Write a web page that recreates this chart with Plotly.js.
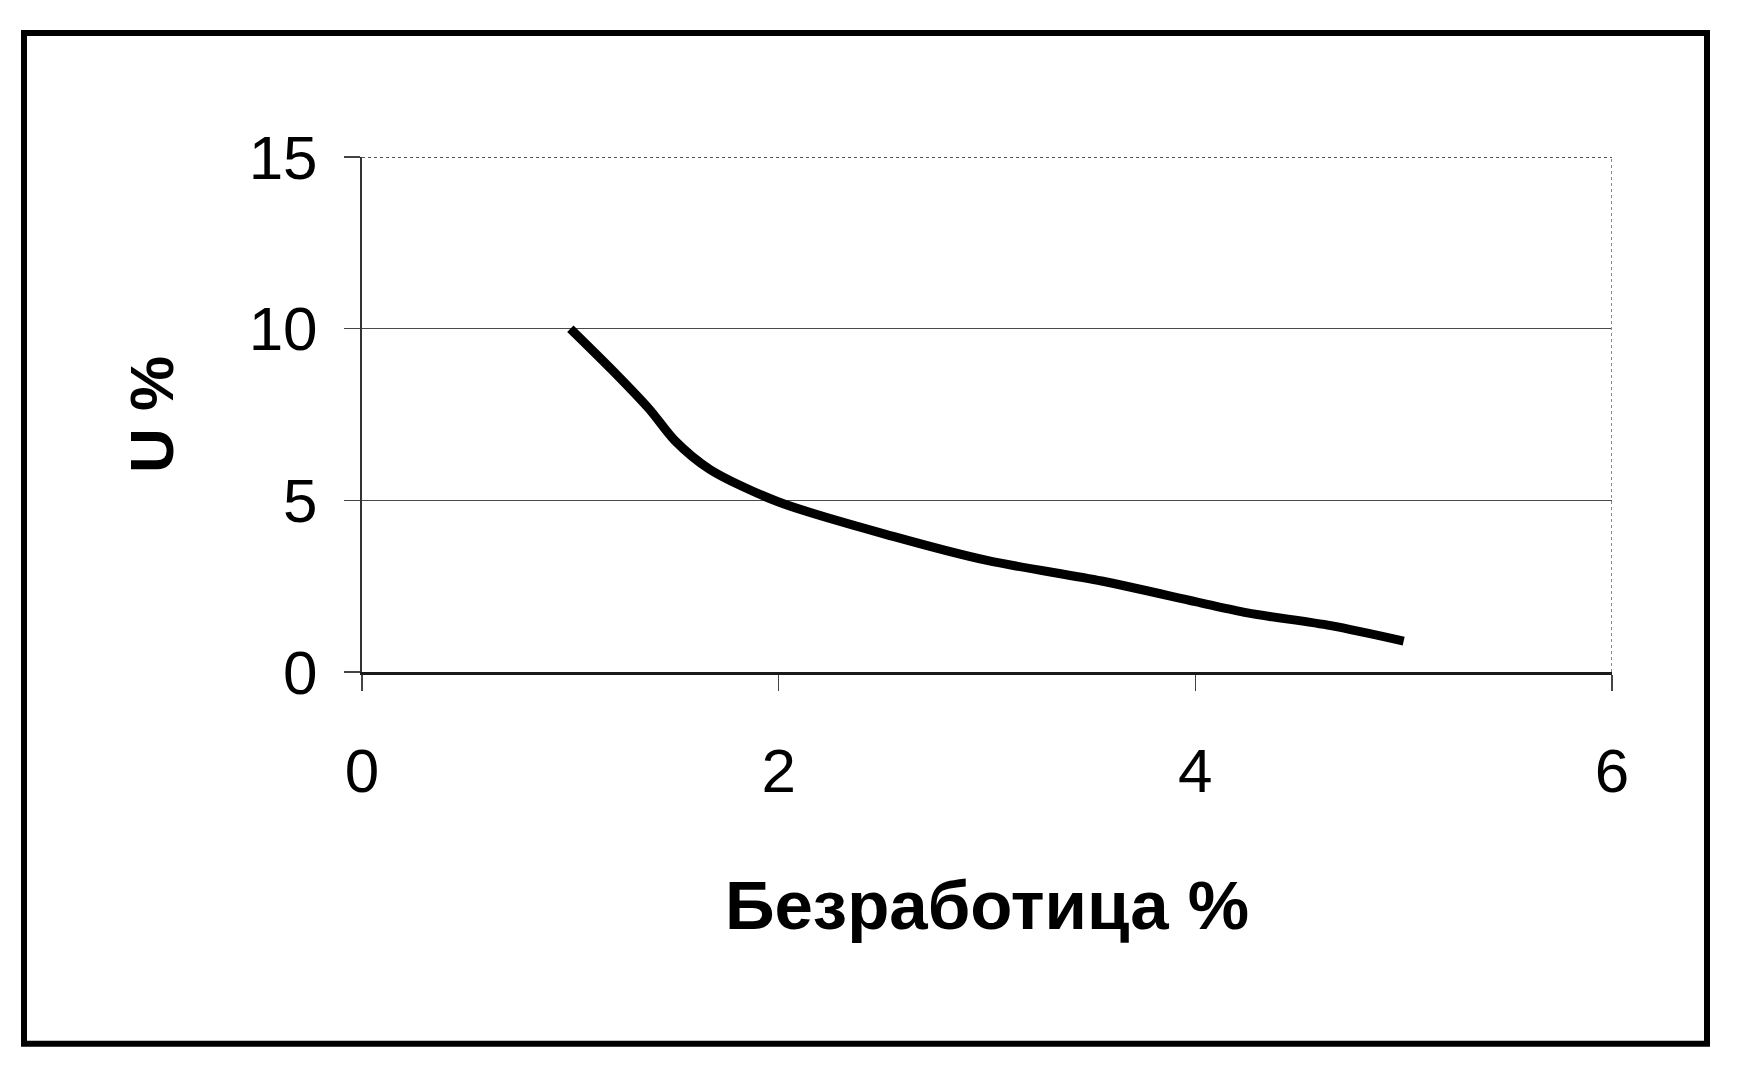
<!DOCTYPE html>
<html>
<head>
<meta charset="utf-8">
<script src="https://cdn.plot.ly/plotly-3.0.1.min.js"></script>
<style>
  html, body { margin: 0; padding: 0; background: #ffffff; }
  #chart { width: 1748px; height: 1089px; }
</style>
</head>
<body>
<div id="chart"></div>
<script>
// Data
const unemployment = [1.0, 1.2, 1.38, 1.5, 1.67, 2.0, 2.55, 3.0, 3.55, 4.0, 4.25, 4.65, 5.0];
const inflation    = [10.0, 8.8, 7.65, 6.75, 5.9, 4.95, 3.95, 3.25, 2.65, 2.05, 1.72, 1.35, 0.9];
const xTicks = [0, 2, 4, 6];
const yTicks = [0, 5, 10, 15];
const xTitle = 'Безработица %';
const yTitle = 'U %';

const FONT = '"Liberation Sans", Arial, sans-serif';

const trace = {
  x: unemployment,
  y: inflation,
  type: 'scatter',
  mode: 'lines',
  line: { color: '#000000', width: 9, shape: 'spline', smoothing: 0.8 },
  hoverinfo: 'x+y',
  showlegend: false
};

const layout = {
  width: 1748,
  height: 1089,
  paper_bgcolor: '#ffffff',
  plot_bgcolor: '#ffffff',
  margin: { l: 362, r: 136, t: 157, b: 417 },
  showlegend: false,
  font: { family: FONT, color: '#000000' },
  xaxis: {
    range: [0, 6],
    tickvals: xTicks,
    ticktext: xTicks.map(String),
    showgrid: false,
    zeroline: false,
    showline: true,
    linecolor: '#1a1a1a',
    linewidth: 3,
    ticks: 'outside',
    ticklen: 16,
    tickwidth: 1.5,
    tickcolor: '#444444',
    ticklabelstandoff: 27,
    tickfont: { family: FONT, size: 62, color: '#000000' },
    title: { text: xTitle, font: { family: FONT, size: 69, color: '#000000', weight: 'bold' }, standoff: 77 },
    automargin: false,
    fixedrange: true
  },
  yaxis: {
    range: [0, 15],
    tickvals: yTicks,
    ticktext: yTicks.map(String),
    showgrid: true,
    gridcolor: '#4a4a4a',
    gridwidth: 1.5,
    zeroline: false,
    showline: true,
    linecolor: '#333333',
    linewidth: 2,
    ticks: 'outside',
    ticklen: 16,
    tickwidth: 1.5,
    tickcolor: '#444444',
    ticklabelstandoff: 14,
    tickfont: { family: FONT, size: 62, color: '#000000' },
    title: { text: yTitle, font: { family: FONT, size: 62, color: '#000000', weight: 'bold' }, standoff: 55 },
    automargin: false,
    fixedrange: true
  },
  shapes: [
    // outer chart frame
    { type: 'rect', xref: 'paper', yref: 'paper',
      x0: -0.2704, x1: 1.076, y0: -0.722, y1: 1.241,
      line: { color: '#000000', width: 6 }, fillcolor: 'rgba(0,0,0,0)', layer: 'below' },
    // dotted top border of plot area
    { type: 'line', xref: 'x', yref: 'y', x0: 0, x1: 6, y0: 15, y1: 15,
      line: { color: '#555555', width: 2, dash: 'dot' } },
    // dotted right border of plot area
    { type: 'line', xref: 'x', yref: 'y', x0: 6, x1: 6, y0: 0, y1: 15,
      line: { color: '#888888', width: 2, dash: 'dot' } }
  ]
};

Plotly.newPlot('chart', [trace], layout, { displayModeBar: false, staticPlot: true });
</script>
</body>
</html>
